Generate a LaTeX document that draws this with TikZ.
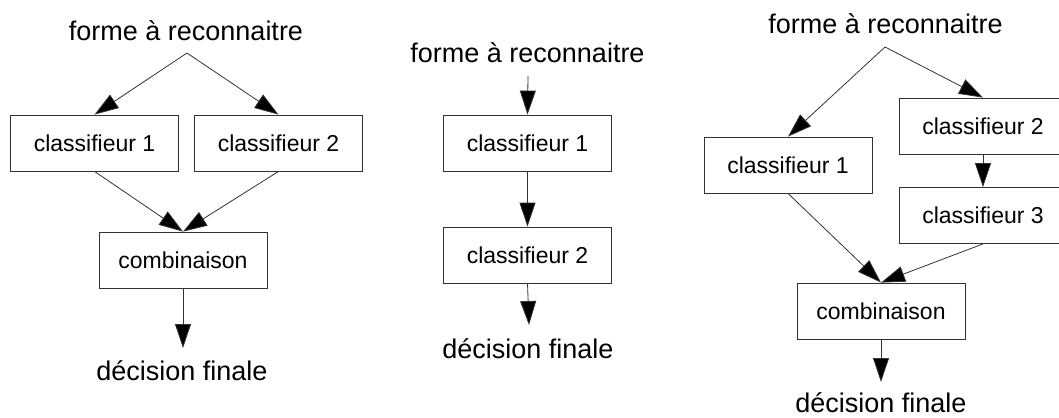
\documentclass[tikz,border=0pt]{standalone}
\usepackage{fontspec}
\setmainfont{Liberation Sans}
\usetikzlibrary{arrows.meta}
\begin{document}
\begin{tikzpicture}[x=1bp,y=-1bp,
  box/.style={draw=black!80,line width=0.8bp,rectangle,minimum width=168bp,minimum height=56bp,inner sep=0pt,font=\fontsize{23bp}{26bp}\selectfont},
  lbl/.style={anchor=base,inner sep=0pt,font=\fontsize{27bp}{30bp}\selectfont},
  conn/.style={draw=black!80,line width=0.8bp,-{Triangle[length=24bp,width=16bp,fill=black]}},
  plain/.style={draw=black!80,line width=0.8bp}]
\useasboundingbox (0,0) rectangle (1059,417);
% ---------- left diagram ----------
\node[lbl] (t1) at (186,40) {forme à reconnaitre};
\coordinate (f1) at (187,53);
\node[box] (a1) at (94.5,143) {classifieur 1};
\node[box] (a2) at (278.5,143) {classifieur 2};
\node[box] (ac) at (183,260) {combinaison};
\node[lbl] (ad) at (182,380) {décision finale};
\coordinate (ae) at (183,348);
\draw[conn] (f1) -- (a1.north);
\draw[conn] (f1) -- (a2.north);
\draw[conn] (a1.south) -- (ac.north);
\draw[conn] (a2.south) -- (ac.north);
\draw[conn] (ac.south) -- (ae);
% ---------- middle diagram ----------
\node[lbl] (t2) at (527.5,62) {forme à reconnaitre};
\coordinate (ms) at (528,76);
\node[box] (b1) at (527.5,143) {classifieur 1};
\node[box] (b2) at (527.5,255) {classifieur 2};
\node[lbl] (bd) at (528,358) {décision finale};
\coordinate (be) at (529,325);
\draw[conn] (ms) -- (b1.north);
\draw[conn] (b1.south) -- (b2.north);
\draw[conn] (b2.south) -- (be);
% ---------- right diagram ----------
\node[lbl] (t3) at (885.5,33) {forme à reconnaitre};
\coordinate (f3) at (885,47);
\node[box] (c1) at (788,165) {classifieur 1};
\node[box] (c2) at (983,126) {classifieur 2};
\node[box] (c3) at (983,215.5) {classifieur 3};
\node[box] (cc) at (881,311) {combinaison};
\node[lbl] (cd) at (881,412) {décision finale};
\coordinate (ce) at (881,382);
\draw[conn] (f3) -- (c1.north);
\draw[conn] (f3) -- (c2.north);
\draw[conn] (c2.south) -- (c3.north);
\draw[conn] (c1.south) -- (cc.north);
\draw[conn] (c3.south) -- (cc.north);
\draw[conn] (cc.south) -- (ce);
\end{tikzpicture}
\end{document}
